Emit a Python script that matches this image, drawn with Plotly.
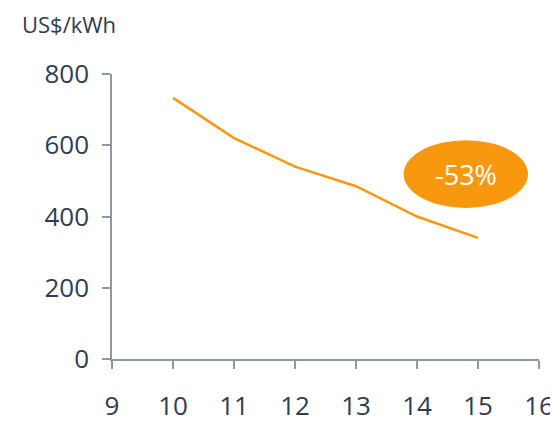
import plotly.graph_objects as go

years = [10, 11, 12, 13, 14, 15]
cost = [733, 620, 540, 485, 400, 340]
x_ticks = [9, 10, 11, 12, 13, 14, 15, 16]
y_ticks = [0, 200, 400, 600, 800]
unit_label = "US$/kWh"
badge_text = "-53%"

orange = "#F7980F"
text_col = "#2F3D52"
axis_col = "#8C97A4"
font = "Open Sans"

fig = go.Figure()
fig.add_trace(go.Scatter(
    x=years, y=cost, mode="lines",
    line=dict(color=orange, width=2.5),
    hoverinfo="x+y", showlegend=False
))

# orange badge with the overall decline
fig.add_shape(type="circle", xref="x", yref="y",
              x0=13.78, x1=15.82, y0=424, y1=614,
              fillcolor=orange, line=dict(width=0), layer="above")
fig.add_annotation(x=14.8, y=519, xref="x", yref="y", text=badge_text,
                   showarrow=False, font=dict(family=font, size=27, color="white"))

fig.add_annotation(x=-0.215, y=1.175, xref="paper", yref="paper", text=unit_label,
                   showarrow=False, xanchor="left", yanchor="middle",
                   font=dict(family=font, size=22, color=text_col))

fig.update_xaxes(range=[9, 16], tickvals=x_ticks, showgrid=False, zeroline=False,
                 showline=True, linecolor=axis_col, linewidth=1.5,
                 ticks="outside", ticklen=8, tickcolor=axis_col, tickwidth=1.5,
                 ticklabelstandoff=15, automargin=False,
                 tickfont=dict(family=font, size=26, color=text_col))
fig.update_yaxes(range=[0, 800], tickvals=y_ticks, showgrid=False, zeroline=False,
                 showline=True, linecolor=axis_col, linewidth=1.5,
                 ticks="outside", ticklen=8, tickcolor=axis_col, tickwidth=1.5,
                 ticklabelstandoff=8, automargin=False,
                 tickfont=dict(family=font, size=26, color=text_col))

# the page has an 8px body margin, so the figure is a bit smaller than the window
fig.update_layout(
    width=550, height=419,
    margin=dict(l=104, r=19, t=66, b=68),
    plot_bgcolor="white", paper_bgcolor="white",
)

fig.write_html("out.html")
